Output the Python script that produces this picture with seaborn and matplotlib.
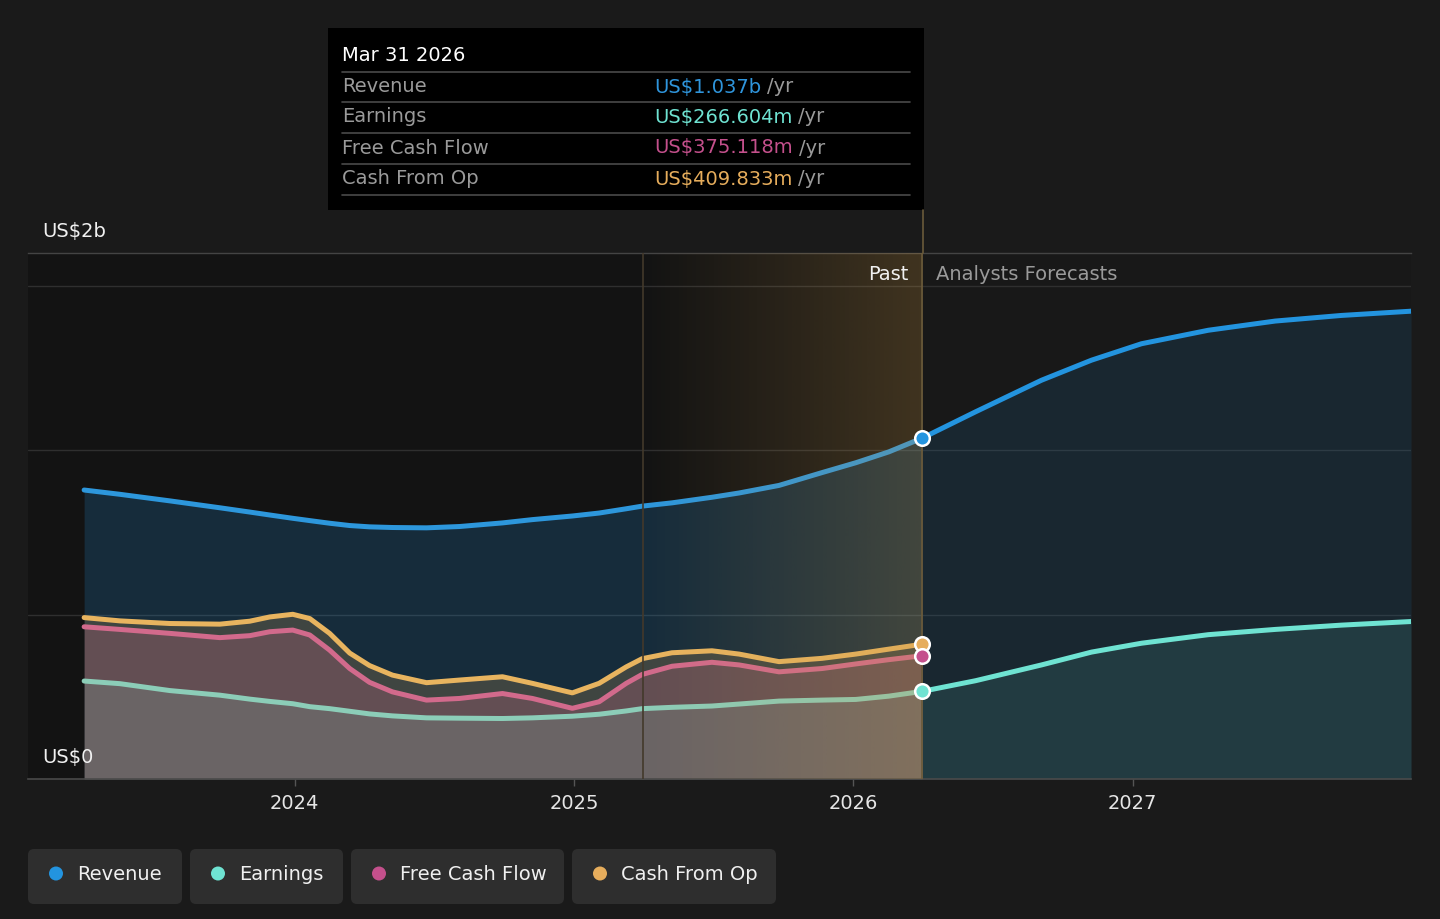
import matplotlib
matplotlib.use("Agg")
import numpy as np
import pandas as pd
import matplotlib.pyplot as plt
import seaborn as sns
from matplotlib.patches import Rectangle, FancyBboxPatch, Ellipse

# ---------------- data (US$ billions, x in decimal years) ----------------
past_t = [2023.246, 2023.374, 2023.553, 2023.732, 2023.839, 2023.911, 2023.993, 2024.054,
          2024.125, 2024.197, 2024.268, 2024.350, 2024.472, 2024.590, 2024.744, 2024.851,
          2024.994, 2025.090, 2025.187, 2025.244, 2025.351, 2025.494, 2025.591, 2025.734,
          2025.888, 2026.009, 2026.127, 2026.247]
revenue_past = [0.879, 0.866, 0.846, 0.825, 0.812, 0.803, 0.793, 0.786,
                0.778, 0.771, 0.767, 0.765, 0.764, 0.768, 0.779, 0.789,
                0.800, 0.809, 0.822, 0.830, 0.840, 0.857, 0.870, 0.893,
                0.932, 0.962, 0.995, 1.037]
earnings_past = [0.298, 0.290, 0.269, 0.255, 0.243, 0.236, 0.229, 0.220,
                 0.214, 0.206, 0.198, 0.192, 0.186, 0.185, 0.184, 0.186,
                 0.191, 0.197, 0.207, 0.214, 0.218, 0.222, 0.228, 0.237,
                 0.240, 0.242, 0.252, 0.2666]
fcf_past = [0.463, 0.455, 0.443, 0.430, 0.436, 0.448, 0.453, 0.438,
            0.392, 0.336, 0.294, 0.265, 0.240, 0.245, 0.260, 0.245,
            0.215, 0.235, 0.291, 0.318, 0.343, 0.355, 0.347, 0.326,
            0.336, 0.350, 0.363, 0.375]
cfo_past = [0.491, 0.481, 0.473, 0.471, 0.480, 0.493, 0.501, 0.488,
            0.443, 0.383, 0.345, 0.316, 0.293, 0.301, 0.311, 0.291,
            0.262, 0.291, 0.341, 0.366, 0.384, 0.390, 0.380, 0.357,
            0.367, 0.380, 0.395, 0.410]

forecast_t = [2026.247, 2026.438, 2026.674, 2026.853, 2027.032, 2027.271, 2027.511, 2027.747, 2027.997]
revenue_fc = [1.037, 1.117, 1.213, 1.274, 1.324, 1.365, 1.393, 1.410, 1.423]
earnings_fc = [0.2666, 0.299, 0.347, 0.386, 0.413, 0.439, 0.455, 0.468, 0.479]

highlight_start = 2025.247
year_ticks = [2024, 2025, 2026, 2027]
year_labels = ["2024", "2025", "2026", "2027"]
series_names = ["Revenue", "Earnings", "Free Cash Flow", "Cash From Op"]
tooltip_values = ["US$1.037b", "US$266.604m", "US$375.118m", "US$409.833m"]
tooltip_date = "Mar 31 2026"

xp = np.array(past_t)
xf = np.array(forecast_t)

# ---------------- style ----------------
sns.set_theme(style="dark")
plt.rcParams['font.family'] = ['DejaVu Sans']

BG = '#1a1a1a'
AXBG = '#131313'
REV, EARN, FCF, CFO = '#2394df', '#6fe3d2', '#c4508c', '#e6ad5c'
REV_P, EARN_P, FCF_P, CFO_P = '#2d97dc', '#8ccdb8', '#d26a8c', '#e8b45f'

W, H = 1440, 919
fig = plt.figure(figsize=(W / 100, H / 100), dpi=100, facecolor=BG)

L, R, T, B = 28, 1411, 253, 779
ax = fig.add_axes([L / W, 1 - B / H, (R - L) / W, (B - T) / H])
ax.set_facecolor(AXBG)

YMAX = 1.6
X0, X1 = 2023.045, 2027.997
hx0, hx1 = highlight_start, xp[-1]

# slightly lighter forecast background
ax.axvspan(hx1, X1, color='#181818', lw=0, zorder=0.2)

# fills
ax.fill_between(xp, revenue_past, 0, color=REV, alpha=0.20, lw=0, zorder=1)
ax.fill_between(xf, revenue_fc, 0, color=REV, alpha=0.12, lw=0, zorder=1)
ax.fill_between(xp, cfo_past, 0, color=CFO, alpha=0.20, lw=0, zorder=1)
ax.fill_between(xp, fcf_past, 0, color=FCF_P, alpha=0.25, lw=0, zorder=1)
ax.fill_between(xp, earnings_past, 0, color=EARN_P, alpha=0.18, lw=0, zorder=1)
ax.fill_between(xf, earnings_fc, 0, color=EARN, alpha=0.11, lw=0, zorder=1)

# gridlines
for g in [0.5, 1.0, 1.5]:
    ax.axhline(g, color='#2f2f2f', lw=1.0, zorder=0.5)

# lines via seaborn
lw = 3.6
kw = dict(lw=lw, ax=ax, zorder=3, solid_capstyle='round', solid_joinstyle='round')
sns.lineplot(x=xp, y=revenue_past, color=REV_P, **kw)
sns.lineplot(x=xf, y=revenue_fc, color=REV, **kw)
sns.lineplot(x=xp, y=cfo_past, color=CFO_P, **kw)
sns.lineplot(x=xp, y=fcf_past, color=FCF_P, **kw)
sns.lineplot(x=xp, y=earnings_past, color=EARN_P, **kw)
sns.lineplot(x=xf, y=earnings_fc, color=EARN, **kw)

# highlight (past year) gradient overlay
n = 256
grad = np.zeros((1, n, 4))
grad[0, :, :3] = np.array([200, 150, 70]) / 255.0
grad[0, :, 3] = np.linspace(0.0, 0.25, n)
ax.imshow(grad, extent=[hx0, hx1, 0, YMAX], aspect='auto', zorder=4, interpolation='bilinear')
ax.axvline(hx0, color='#43392b', lw=1.2, zorder=4.5)
ax.axvline(hx1, color='#6a5a3a', lw=1.2, zorder=4.5)

# end markers
last = xp[-1]
for val, c in [(revenue_past[-1], REV), (cfo_past[-1], CFO), (fcf_past[-1], FCF), (earnings_past[-1], EARN)]:
    ax.plot([last], [val], 'o', ms=10.5, mfc=c, mec='white', mew=1.8, zorder=6)

ax.set_xlim(X0, X1)
ax.set_ylim(0, YMAX)
ax.set_yticks([])
ax.set_xticks(year_ticks)
ax.set_xticklabels(year_labels)
ax.tick_params(axis='x', colors='#555555', labelcolor='#e6e6e6', labelsize=14,
               length=5, width=1, pad=6, direction='out', bottom=True)
ax.set_xlabel("")
ax.set_ylabel("")
for s in ['left', 'right']:
    ax.spines[s].set_visible(False)
ax.spines['bottom'].set_color('#4a4a4a')
ax.spines['bottom'].set_linewidth(1.2)
ax.spines['top'].set_color('#444444')
ax.spines['top'].set_linewidth(1.0)
ax.grid(False)

# ---------------- overlay in pixel coords ----------------
ov = fig.add_axes([0, 0, 1, 1], zorder=10)
ov.set_xlim(0, W)
ov.set_ylim(H, 0)
ov.axis('off')
ov.patch.set_alpha(0)

ov.text(42, 232, "US$2b", color='#f0f0f0', fontsize=14, va='center', ha='left')
ov.text(42, 758, "US$0", color='#f0f0f0', fontsize=14, va='center', ha='left')
ov.text(908, 274, "Past", color='#f0f0f0', fontsize=14, va='center', ha='right')
ov.text(936, 274, "Analysts Forecasts", color='#9a9a9a', fontsize=14, va='center', ha='left')

# vertical line from tooltip to plot
ov.plot([922.5, 922.5], [210, 253], color='#6a5a3a', lw=1.2)

# tooltip
ov.add_patch(Rectangle((328, 28), 596, 182, facecolor='#000000', edgecolor='none'))
ov.text(342, 55.5, tooltip_date, color='#ffffff', fontsize=14, va='center', ha='left')
for yl in [72, 102, 133, 164, 195]:
    ov.plot([342, 910], [yl, yl], color='#4a4a4a', lw=1.2)
row_y = [87, 117, 148, 179]
val_colors = ['#2f95dc', '#6fe3d2', '#c4508c', '#e6ad5c']
renderer = fig.canvas.get_renderer()
for name, v, c, yy in zip(series_names, tooltip_values, val_colors, row_y):
    ov.text(342, yy, name, color='#9a9a9a', fontsize=14, va='center', ha='left')
    t = ov.text(654, yy, v, color=c, fontsize=14, va='center', ha='left')
    bb = t.get_window_extent(renderer=renderer)
    ov.text(bb.x1 + 6, yy, "/yr", color='#9a9a9a', fontsize=14, va='center', ha='left')

# legend pills
pills = [(28, 182), (190, 343), (351, 564), (572, 776)]
dot_colors = [REV, EARN, FCF, CFO]
for (px0, px1), name, c in zip(pills, series_names, dot_colors):
    ov.add_patch(FancyBboxPatch((px0 + 4, 853), px1 - px0 - 8, 47,
                                boxstyle="round,pad=4,rounding_size=6",
                                facecolor='#2e2e2e', edgecolor='none'))
    ov.add_patch(Ellipse((px0 + 28, 873.5), 14, 14, facecolor=c, edgecolor='none'))
    ov.text(px0 + 49, 874, name, color='#f0f0f0', fontsize=14, va='center', ha='left')

fig.savefig("out.png", dpi=100, facecolor=BG)
